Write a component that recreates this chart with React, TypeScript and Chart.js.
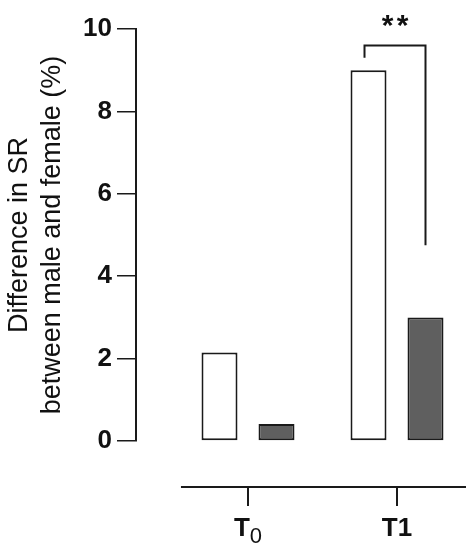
import React, { useEffect, useRef } from 'react';
import { Chart, registerables } from 'chart.js';

Chart.register(...registerables);

// ---- data ----
const categoryPositions = [0, 1];
const labelMain = ['T', 'T1'];
const labelSub = ['0', ''];
const seriesMaleLike = [2.15, 9.0]; // white bars
const seriesFemaleLike = [0.41, 3.0]; // gray bars
const yMin = 0;
const yMax = 10;
const yStep = 2;
const yTitleLines = ['Difference in SR', 'between male and female (%)'];
const sigLabel = '**';
const sigCategoryIndex = 1;
const bracketTop = 9.6;
const bracketLeftEnd = 9.3;
const bracketRightEnd = 4.75;
const xRange = [-0.7517, 1.4899];
const xAxisLineRange = [-0.45, 1.463];

const FONT = '"Liberation Sans", Arial, sans-serif';
const INK = '#1a1a1a';

const customAxisPlugin = {
  id: 'customAxis',
  afterDraw(chart: any) {
    const ctx = chart.ctx;
    const xs = chart.scales.x;
    const ys = chart.scales.y;
    const area = chart.chartArea;
    ctx.save();
    ctx.strokeStyle = INK;
    ctx.fillStyle = '#111';
    ctx.lineWidth = 2;
    // detached x axis
    const axisY = area.bottom + 46;
    ctx.beginPath();
    ctx.moveTo(xs.getPixelForValue(xAxisLineRange[0]), axisY);
    ctx.lineTo(xs.getPixelForValue(xAxisLineRange[1]), axisY);
    ctx.stroke();
    categoryPositions.forEach((v, i) => {
      const px = xs.getPixelForValue(v);
      ctx.beginPath();
      ctx.moveTo(px, axisY);
      ctx.lineTo(px, axisY + 19);
      ctx.stroke();
      ctx.font = `bold 26px ${FONT}`;
      const wMain = ctx.measureText(labelMain[i]).width;
      ctx.font = `22px ${FONT}`;
      const wSub = labelSub[i] ? ctx.measureText(labelSub[i]).width : 0;
      const start = px - (wMain + wSub) / 2;
      ctx.textAlign = 'left';
      ctx.textBaseline = 'alphabetic';
      ctx.font = `bold 26px ${FONT}`;
      ctx.fillText(labelMain[i], start, axisY + 49);
      if (labelSub[i]) {
        ctx.font = `22px ${FONT}`;
        ctx.fillText(labelSub[i], start + wMain, axisY + 56);
      }
    });
    // significance bracket
    const barA = chart.getDatasetMeta(0).data[sigCategoryIndex];
    const barB = chart.getDatasetMeta(1).data[sigCategoryIndex];
    const leftX = barA.x - 4;
    const rightX = barB.x;
    const topY = ys.getPixelForValue(bracketTop);
    ctx.beginPath();
    ctx.moveTo(leftX, ys.getPixelForValue(bracketLeftEnd));
    ctx.lineTo(leftX, topY);
    ctx.lineTo(rightX, topY);
    ctx.lineTo(rightX, ys.getPixelForValue(bracketRightEnd));
    ctx.stroke();
    const cx = (leftX + rightX) / 2;
    ctx.font = `bold 30px ${FONT}`;
    ctx.textAlign = 'center';
    ctx.textBaseline = 'alphabetic';
    const stars = sigLabel.split('');
    stars.forEach((s, i) => {
      ctx.fillText(s, cx + (i - (stars.length - 1) / 2) * 15, topY - 10);
    });
    ctx.restore();
  },
};

export default function App() {
  const ref = useRef<HTMLCanvasElement>(null);
  useEffect(() => {
    const chart = new Chart(ref.current as HTMLCanvasElement, {
      type: 'bar',
      data: {
        datasets: [
          {
            data: seriesMaleLike.map((v, i) => ({ x: categoryPositions[i], y: v })),
            backgroundColor: '#ffffff',
            borderColor: INK,
            borderWidth: 2,
            borderSkipped: false,
            categoryPercentage: 0.765,
            barPercentage: 0.6316,
          },
          {
            data: seriesFemaleLike.map((v, i) => ({ x: categoryPositions[i], y: v })),
            backgroundColor: '#5f5f5f',
            borderColor: INK,
            borderWidth: 2,
            borderSkipped: false,
            categoryPercentage: 0.765,
            barPercentage: 0.6316,
          },
        ],
      } as any,
      options: {
        responsive: false,
        animation: false,
        layout: { padding: { top: 29, bottom: 109, left: 0, right: 5 } },
        plugins: { legend: { display: false }, tooltip: { enabled: false } },
        scales: {
          x: {
            type: 'linear',
            display: false,
            offset: false,
            min: xRange[0],
            max: xRange[1],
            afterBuildTicks: (scale: any) => {
              scale.ticks = categoryPositions.map((v) => ({ value: v }));
            },
          },
          y: {
            min: yMin,
            max: yMax,
            ticks: {
              stepSize: yStep,
              color: '#111',
              padding: 5,
              font: { family: FONT, size: 26, weight: 'bold' },
            },
            grid: {
              drawOnChartArea: false,
              drawTicks: true,
              tickLength: 19,
              color: INK,
              lineWidth: 1.5,
            },
            border: { display: true, color: INK, width: 2 },
            title: {
              display: true,
              text: yTitleLines,
              color: '#111',
              font: { family: FONT, size: 27, weight: 'normal', lineHeight: 1.222 },
              padding: { top: 3.5, bottom: 0 },
            },
            afterFit: (scale: any) => {
              scale.width = 136;
            },
          },
        },
      } as any,
      plugins: [customAxisPlugin],
    });
    return () => chart.destroy();
  }, []);
  return (
    <div style={{ position: 'fixed', left: 0, top: 0, width: 475, height: 550, background: '#fff' }}>
      <canvas ref={ref} width={475} height={550} style={{ display: 'block' }} />
    </div>
  );
}
